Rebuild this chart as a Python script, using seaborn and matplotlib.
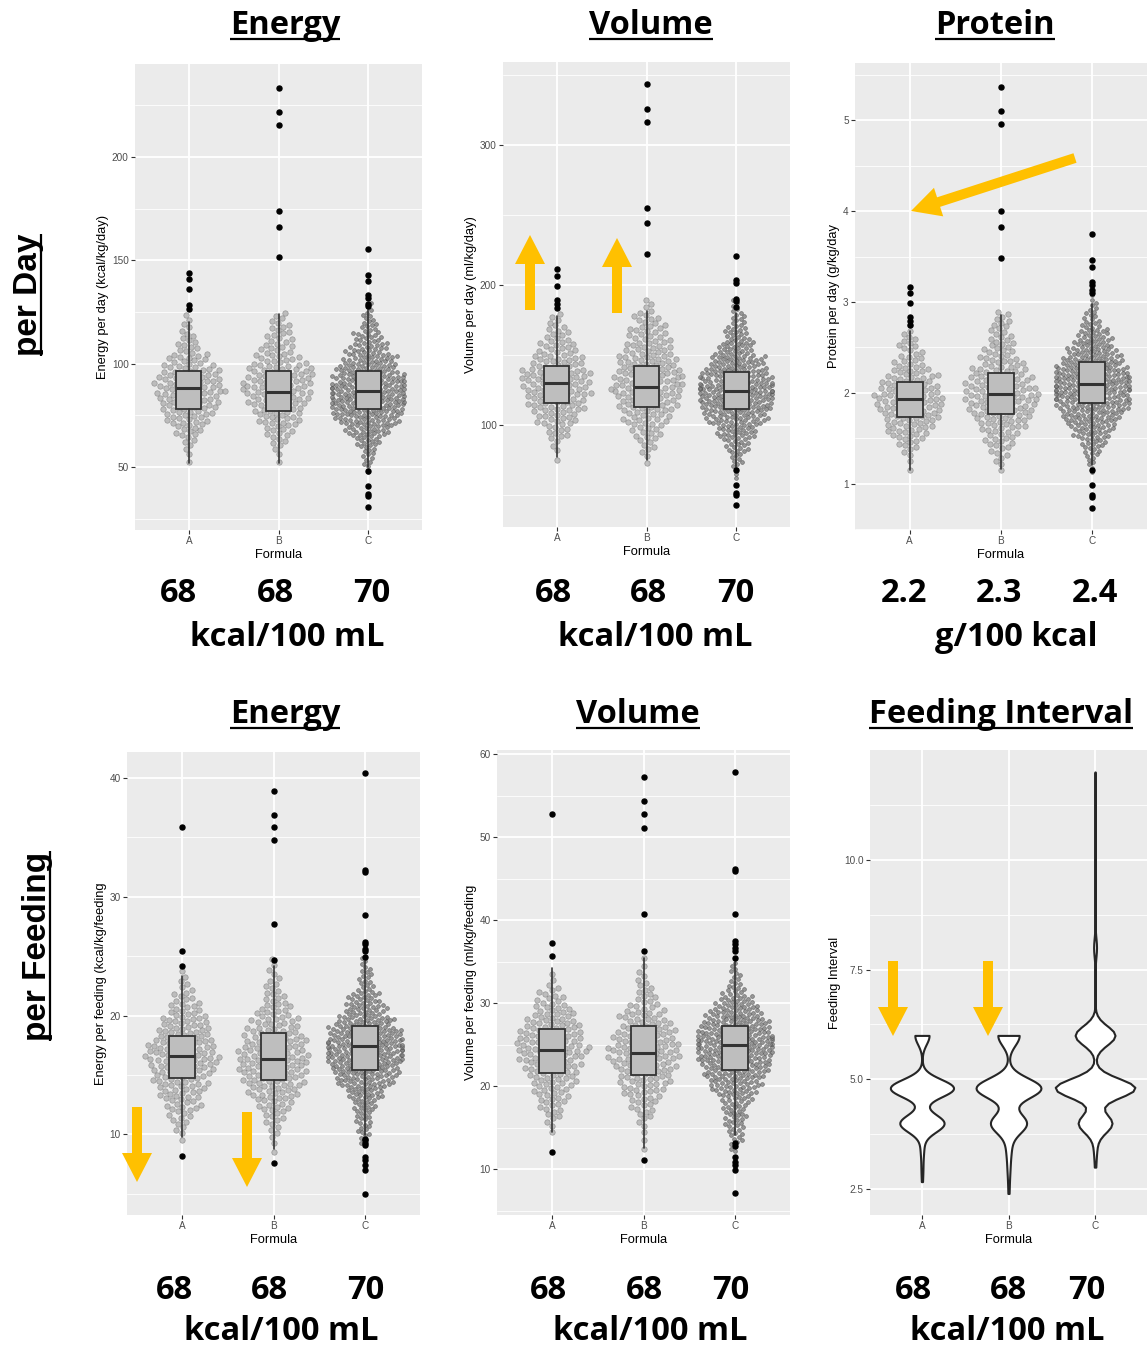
import numpy as np
import pandas as pd
import matplotlib
matplotlib.use("Agg")
import matplotlib.pyplot as plt
from matplotlib.patches import FancyArrow
import seaborn as sns

sns.set_theme(style="white")
plt.rcParams['font.family'] = ['Liberation Sans', 'DejaVu Sans']

W, H = 1147, 1346
CATS = ["A", "B", "C"]

# ---------------- Panel 1: Energy per day (binned dot counts) ----------------
e_day_lo, e_day_step = 45, 5
e_day_A = [0, 1, 2, 4, 8, 12, 15, 17, 19, 18, 15, 11, 7, 5, 3, 2, 0]
e_day_B = [0, 1, 2, 5, 8, 12, 14, 17, 19, 19, 17, 12, 9, 7, 6, 4, 0]
e_day_C = [1, 5, 7, 13, 22, 31, 38, 41, 42, 38, 32, 26, 19, 14, 9, 6, 3]
e_day_q1 = [78.2, 77.0, 78.2]
e_day_med = [88.1, 86.5, 87.0]
e_day_q3 = [96.2, 96.2, 96.3]
e_day_wlo = [52, 52, 50]
e_day_whi = [120, 124, 126]
e_day_out_A = [126.5, 128.5, 136, 141, 144]
e_day_out_B = [151.6, 166.3, 174, 215.7, 221.8, 233.6]
e_day_out_C = [30.6, 35.9, 36.7, 40.7, 47.9, 128, 129, 131.6, 133.2, 140.2, 142.8, 155.3]

# ---------------- Panel 2: Volume per day ----------------
v_day_lo, v_day_step = 60, 10
v_day_A = [0, 1, 3, 9, 16, 22, 25, 26, 20, 14, 9, 5, 0]
v_day_B = [0, 2, 6, 11, 17, 22, 26, 26, 23, 18, 14, 10, 4]
v_day_C = [3, 8, 16, 27, 41, 52, 57, 49, 38, 25, 16, 10, 5]
v_day_q1 = [115.4, 112.6, 111.2]
v_day_med = [129.7, 127.3, 124.4]
v_day_q3 = [142.0, 142.0, 138.0]
v_day_wlo = [77, 75, 70]
v_day_whi = [178, 181, 180]
v_day_out_A = [183.1, 186.0, 189.1, 199.0, 206.2, 210.9]
v_day_out_B = [221.8, 243.7, 255.1, 316.4, 325.2, 343.0]
v_day_out_C = [43.0, 50.1, 51.3, 57.2, 67.9, 184.3, 188.6, 189.8, 201.0, 203.3, 220.6]

# ---------------- Panel 3: Protein per day ----------------
p_day_lo, p_day_step = 1.1, 0.1
p_day_A = [1, 1, 3, 6, 10, 12, 14, 16, 17, 15, 13, 10, 7, 5, 5, 3, 1, 0, 0, 0]
p_day_B = [1, 3, 4, 7, 8, 12, 14, 16, 18, 17, 15, 13, 10, 8, 7, 5, 5, 4, 0, 0]
p_day_C = [2, 4, 7, 11, 16, 21, 27, 32, 36, 38, 37, 33, 28, 23, 18, 14, 9, 6, 4, 2]
p_day_q1 = [1.73, 1.77, 1.89]
p_day_med = [1.93, 1.99, 2.10]
p_day_q3 = [2.12, 2.22, 2.34]
p_day_wlo = [1.15, 1.16, 1.20]
p_day_whi = [2.68, 2.86, 2.98]
p_day_out_A = [2.75, 2.79, 2.83, 2.99, 3.10, 3.17]
p_day_out_B = [3.48, 3.82, 4.0, 4.96, 5.10, 5.37]
p_day_out_C = [0.73, 0.85, 0.88, 0.98, 1.15, 3.10, 3.13, 3.19, 3.22, 3.39, 3.46, 3.75]

# ---------------- Panel 4: Energy per feeding ----------------
e_fd_lo, e_fd_step = 8, 1
e_fd_A = [0, 1, 4, 7, 11, 14, 17, 20, 23, 21, 18, 15, 11, 7, 4, 2, 0]
e_fd_B = [1, 2, 4, 7, 11, 16, 19, 22, 23, 20, 17, 14, 11, 7, 5, 3, 2]
e_fd_C = [0, 5, 8, 10, 14, 22, 33, 41, 47, 49, 44, 34, 24, 18, 9, 7, 4]
e_fd_q1 = [14.7, 14.6, 15.4]
e_fd_med = [16.6, 16.3, 17.4]
e_fd_q3 = [18.3, 18.5, 19.1]
e_fd_wlo = [9.8, 8.8, 9.9]
e_fd_whi = [23.3, 24.2, 24.6]
e_fd_out_A = [8.2, 24.2, 25.4, 35.9]
e_fd_out_B = [7.6, 24.7, 27.7, 34.8, 35.9, 36.9, 38.9]
e_fd_out_C = [5.0, 7.0, 7.4, 7.8, 8.05, 9.1, 9.3, 9.5, 9.6,
              24.9, 25.4, 25.6, 26.0, 26.2, 28.5, 32.1, 32.3, 40.4]

# ---------------- Panel 5: Volume per feeding ----------------
v_fd_lo, v_fd_step = 12, 1
v_fd_A = [0, 0, 1, 2, 4, 5, 7, 8, 10, 11, 13, 14, 16, 15, 14, 13, 10, 8, 6, 4, 2, 1, 0, 0]
v_fd_B = [1, 1, 1, 2, 4, 5, 7, 9, 11, 12, 14, 15, 16, 14, 13, 11, 10, 7, 5, 4, 3, 2, 1, 1]
v_fd_C = [3, 5, 6, 8, 9, 10, 12, 18, 21, 25, 28, 31, 33, 34, 31, 28, 24, 19, 14, 8, 5, 4, 3, 0]
v_fd_q1 = [21.6, 21.4, 22.0]
v_fd_med = [24.4, 24.0, 25.0]
v_fd_q3 = [26.9, 27.3, 27.3]
v_fd_wlo = [14.5, 12.6, 14.1]
v_fd_whi = [34.3, 35.5, 35.0]
v_fd_out_A = [12.1, 35.7, 37.3, 52.8]
v_fd_out_B = [11.1, 36.3, 40.7, 51.1, 52.8, 54.3, 57.3]
v_fd_out_C = [7.1, 9.9, 10.5, 10.9, 11.5, 12.8, 13.2, 35.5, 36.3, 36.7, 37.1, 37.5,
              40.7, 45.9, 46.2, 57.8]

# ---------------- Panel 6: Feeding interval (h) ----------------
fi_values = [2.4, 2.67, 3.0, 3.43, 4.0, 4.8, 6.0, 8.0, 12.0]
fi_A = [0, 1, 2, 4, 56, 80, 18, 0, 0]
fi_B = [1, 1, 3, 6, 47, 85, 28, 0, 0]
fi_C = [0, 0, 3, 8, 93, 220, 110, 8, 1]

# ---------------- annotation texts ----------------
row1_titles = ["Energy", "Volume", "Protein"]
row2_titles = ["Energy", "Volume", "Feeding Interval"]
row1_levels = [["68", "68", "70"], ["68", "68", "70"], ["2.2", "2.3", "2.4"]]
row1_units = ["kcal/100 mL", "kcal/100 mL", "g/100 kcal"]
row2_levels = [["68", "68", "70"], ["68", "68", "70"], ["68", "68", "70"]]
row2_units = ["kcal/100 mL", "kcal/100 mL", "kcal/100 mL"]
row_labels = ["per Day", "per Feeding"]
ylabels = ["Energy per day (kcal/kg/day)", "Volume per day (ml/kg/day)",
           "Protein per day (g/kg/day", "Energy per feeding (kcal/kg/feeding",
           "Volume per feeding (ml/kg/feeding", "Feeding Interval"]


def expand(lo, step, counts):
    vals = []
    for i, c in enumerate(counts):
        for j in range(c):
            vals.append(lo + step * (i + (j + 0.5) / c))
    return vals


def repeat(values, counts):
    out = []
    for v, c in zip(values, counts):
        out += [v] * c
    return out


fig = plt.figure(figsize=(W / 100, H / 100), dpi=100)
fig.patch.set_facecolor("white")


def px_rect(x0, y0, x1, y1):
    return [x0 / W, 1 - y1 / H, (x1 - x0) / W, (y1 - y0) / H]


TICK_COL = "#4D4D4D"
BG = "#EBEBEB"


def style_axes(ax, ylim, major, minor, ylabel, fmt):
    ax.set_facecolor(BG)
    for s in ax.spines.values():
        s.set_visible(False)
    ax.set_xlim(-0.6, 2.6)
    ax.set_ylim(*ylim)
    ax.set_xticks([0, 1, 2])
    ax.set_xticklabels(CATS)
    ax.set_yticks(major)
    ax.set_yticklabels([fmt.format(v) for v in major])
    ax.set_yticks(minor, minor=True)
    ax.grid(which="major", color="white", lw=1.3, zorder=0)
    ax.grid(which="minor", axis="y", color="white", lw=0.6, zorder=0)
    ax.set_axisbelow(True)
    ax.tick_params(axis="both", which="major", length=3, width=0.8, color="#333333",
                   labelsize=7.2, labelcolor=TICK_COL, pad=1.5, left=True, bottom=True)
    ax.tick_params(axis="y", which="minor", length=0)
    ax.set_xlabel("Formula", fontsize=9.3, color="black", labelpad=2)
    ax.set_ylabel(ylabel, fontsize=9.3, color="black", labelpad=2)


SW_SIZE = [3.9, 3.9, 2.75]
SW_FACE = ["#adadad", "#adadad", "#7a7a7a"]
SW_EDGE = ["#7a7a7a", "#7a7a7a", "#4a4a4a"]


def box_swarm(ax, lo, step, counts_list, q1, med, q3, wlo, whi, outs):
    for i, (g, counts) in enumerate(zip(CATS, counts_list)):
        vals = expand(lo, step, counts)
        sns.swarmplot(x=[g] * len(vals), y=vals, order=CATS, ax=ax, size=SW_SIZE[i],
                      color=SW_FACE[i], edgecolor=SW_EDGE[i], linewidth=0.45,
                      alpha=0.75, zorder=2, warn_thresh=1.0)
    stats = []
    for i in range(3):
        stats.append(dict(q1=q1[i], med=med[i], q3=q3[i], whislo=wlo[i],
                          whishi=whi[i], fliers=outs[i]))
    ax.bxp(stats, positions=[0, 1, 2], widths=0.28, patch_artist=True,
           showcaps=False, zorder=3,
           boxprops=dict(facecolor="#BEBEBE", edgecolor="#333333", linewidth=1.3),
           medianprops=dict(color="#333333", linewidth=2.2),
           whiskerprops=dict(color="#333333", linewidth=1.2),
           flierprops=dict(marker="o", markerfacecolor="black", markeredgecolor="black",
                           markersize=3.6, linestyle="none"))


# Panel 1
ax1 = fig.add_axes(px_rect(135, 64, 422, 530))
box_swarm(ax1, e_day_lo, e_day_step, [e_day_A, e_day_B, e_day_C], e_day_q1, e_day_med,
          e_day_q3, e_day_wlo, e_day_whi, [e_day_out_A, e_day_out_B, e_day_out_C])
style_axes(ax1, (19.5, 245), [50, 100, 150, 200], [25, 75, 125, 175, 225], ylabels[0], "{:g}")

# Panel 2
ax2 = fig.add_axes(px_rect(503, 62, 790, 527))
box_swarm(ax2, v_day_lo, v_day_step, [v_day_A, v_day_B, v_day_C], v_day_q1, v_day_med,
          v_day_q3, v_day_wlo, v_day_whi, [v_day_out_A, v_day_out_B, v_day_out_C])
style_axes(ax2, (27, 359), [100, 200, 300], [50, 150, 250, 350], ylabels[1], "{:g}")

# Panel 3
ax3 = fig.add_axes(px_rect(855, 63, 1147, 530))
box_swarm(ax3, p_day_lo, p_day_step, [p_day_A, p_day_B, p_day_C], p_day_q1, p_day_med,
          p_day_q3, p_day_wlo, p_day_whi, [p_day_out_A, p_day_out_B, p_day_out_C])
style_axes(ax3, (0.49, 5.63), [1, 2, 3, 4, 5], [0.5, 1.5, 2.5, 3.5, 4.5, 5.5], ylabels[2], "{:g}")

# Panel 4
ax4 = fig.add_axes(px_rect(127, 752, 420, 1215))
box_swarm(ax4, e_fd_lo, e_fd_step, [e_fd_A, e_fd_B, e_fd_C], e_fd_q1, e_fd_med,
          e_fd_q3, e_fd_wlo, e_fd_whi, [e_fd_out_A, e_fd_out_B, e_fd_out_C])
style_axes(ax4, (3.2, 42.2), [10, 20, 30, 40], [5, 15, 25, 35], ylabels[3], "{:g}")

# Panel 5
ax5 = fig.add_axes(px_rect(497, 750, 790, 1215))
box_swarm(ax5, v_fd_lo, v_fd_step, [v_fd_A, v_fd_B, v_fd_C], v_fd_q1, v_fd_med,
          v_fd_q3, v_fd_wlo, v_fd_whi, [v_fd_out_A, v_fd_out_B, v_fd_out_C])
style_axes(ax5, (4.5, 60.5), [10, 20, 30, 40, 50, 60], [5, 15, 25, 35, 45, 55], ylabels[4], "{:g}")

# Panel 6 (violins)
ax6 = fig.add_axes(px_rect(870, 750, 1147, 1215))
VI_WIDTH = [0.73, 0.75, 0.92]
VI_BW = [0.30, 0.30, 0.24]
for i, (g, counts) in enumerate(zip(CATS, [fi_A, fi_B, fi_C])):
    vals = repeat(fi_values, counts)
    sns.violinplot(x=[g] * len(vals), y=vals, order=CATS, ax=ax6, inner=None, cut=0,
                   bw_method=VI_BW[i], width=VI_WIDTH[i], color="white", saturation=1,
                   linecolor="#262626", linewidth=1.5, density_norm="area")
style_axes(ax6, (1.91, 12.5), [2.5, 5.0, 7.5, 10.0], [3.75, 6.25, 8.75, 11.25], ylabels[5], "{:.1f}")

# ---------------- overlay: titles, levels, arrows ----------------
ov = fig.add_axes([0, 0, 1, 1], zorder=10)
ov.set_xlim(0, W)
ov.set_ylim(H, 0)
ov.axis("off")

FS = 23.5
TITLE_FONT = dict(family=["Open Sans", "DejaVu Sans"], weight="bold", color="black")
title_objs = []
for t, x in zip(row1_titles, [285, 651, 995]):
    title_objs.append((ov.text(x, 34, t, ha="center", va="baseline", fontsize=FS, **TITLE_FONT), 34))
for t, x in zip(row2_titles, [285, 638, 1001]):
    title_objs.append((ov.text(x, 723, t, ha="center", va="baseline", fontsize=FS, **TITLE_FONT), 723))

lvl_x1 = [[178, 275, 372], [553, 648, 736], [904, 999, 1095]]
unit_x1 = [287, 655, 1016]
lvl_x2 = [[174, 269, 366], [548, 644, 731], [913, 1008, 1087]]
unit_x2 = [281, 650, 1007]
for p in range(3):
    for k in range(3):
        ov.text(lvl_x1[p][k], 602, row1_levels[p][k], ha="center", va="baseline", fontsize=FS, **TITLE_FONT)
        ov.text(lvl_x2[p][k], 1299, row2_levels[p][k], ha="center", va="baseline", fontsize=FS, **TITLE_FONT)
    ov.text(unit_x1[p], 646, row1_units[p], ha="center", va="baseline", fontsize=FS, **TITLE_FONT)
    ov.text(unit_x2[p], 1340, row2_units[p], ha="center", va="baseline", fontsize=FS, **TITLE_FONT)

ROW_FONT = dict(family=["Liberation Sans", "DejaVu Sans"], weight="bold", color="black")
rl1 = ov.text(37, 295, row_labels[0], rotation=90, rotation_mode="anchor", ha="center",
              va="baseline", fontsize=24, **ROW_FONT)
rl2 = ov.text(46, 946, row_labels[1], rotation=90, rotation_mode="anchor", ha="center",
              va="baseline", fontsize=24, **ROW_FONT)

ARROW_COL = "#FFC000"
arrows = [((530, 310), (530, 235)), ((617, 313), (617, 238)),
          ((1075, 158), (911, 211)),
          ((137, 1107), (137, 1182)), ((247, 1112), (247, 1187)),
          ((893, 961), (893, 1036)), ((988, 961), (988, 1036))]
for (x0, y0), (x1, y1) in arrows:
    ov.add_patch(FancyArrow(x0, y0, x1 - x0, y1 - y0, width=10, head_width=30,
                            head_length=29, length_includes_head=True,
                            color=ARROW_COL, lw=0))

fig.canvas.draw()
r = fig.canvas.get_renderer()
for t, yb in title_objs:
    bb = t.get_window_extent(r)
    ov.plot([bb.x0, bb.x1], [yb + 5, yb + 5], color="black", lw=1.6, solid_capstyle="butt")
for t, xb in [(rl1, 41), (rl2, 50)]:
    bb = t.get_window_extent(r)
    ov.plot([xb, xb], [H - bb.y0, H - bb.y1], color="black", lw=1.6, solid_capstyle="butt")

fig.savefig("out.png", dpi=100, facecolor="white")
